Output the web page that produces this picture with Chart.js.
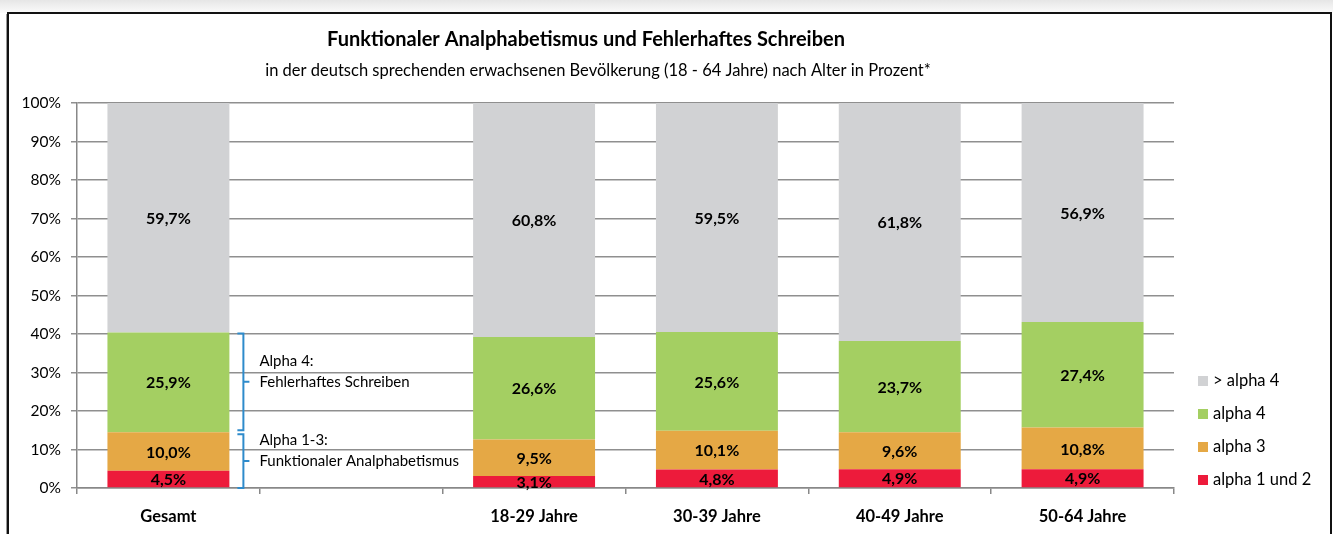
<!DOCTYPE html>
<html>
<head>
<meta charset="utf-8">
<script src="https://cdn.jsdelivr.net/npm/chart.js@4"></script>
<style>
  html, body { margin: 0; padding: 0; background: #fff; }
  #wrap { width: 1333px; height: 534px; position: relative; }
</style>
</head>
<body>
<div id="wrap"><canvas id="chart"></canvas></div>
<script>
// data
const categories = ['Gesamt', '', '18-29 Jahre', '30-39 Jahre', '40-49 Jahre', '50-64 Jahre'];
const alpha12 = [4.5, null, 3.1, 4.8, 4.9, 4.9];
const alpha3 = [10.0, null, 9.5, 10.1, 9.6, 10.8];
const alpha4 = [25.9, null, 26.6, 25.6, 23.7, 27.4];
const overAlpha4 = [59.7, null, 60.8, 59.5, 61.8, 56.9];
const seriesNames = ['alpha 1 und 2', 'alpha 3', 'alpha 4', '> alpha 4'];
const seriesColors = ['#ED1B3B', '#E5A845', '#A4CF62', '#D1D2D4'];
const yTicks = [0, 10, 20, 30, 40, 50, 60, 70, 80, 90, 100];

const FONT = 'Lato, "Open Sans", sans-serif';

const chartTitle = 'Funktionaler Analphabetismus und Fehlerhaftes Schreiben';
const chartSubtitle = 'in der deutsch sprechenden erwachsenen Bevölkerung (18 - 64 Jahre) nach Alter in Prozent*';

function fmt(v) {
  return v.toFixed(1).replace('.', ',') + '%';
}

// frame, title, labels, braces and legend
const decoPlugin = {
  id: 'deco',
  beforeDraw(chart) {
    const ctx = chart.ctx;
    ctx.save();
    ctx.fillStyle = '#fff';
    ctx.fillRect(0, 0, chart.width, chart.height);
    const g = ctx.createLinearGradient(0, 0, 0, 13);
    g.addColorStop(0, '#e6e6e6');
    g.addColorStop(1, '#fbfbfb');
    ctx.fillStyle = g;
    ctx.fillRect(0, 0, chart.width, 13);
    ctx.strokeStyle = '#111';
    ctx.lineWidth = 2;
    ctx.beginPath();
    ctx.moveTo(8, chart.height);
    ctx.lineTo(8, 13);
    ctx.lineTo(1331, 13);
    ctx.lineTo(1331, chart.height);
    ctx.stroke();
    ctx.strokeStyle = '#999';
    ctx.lineWidth = 1;
    ctx.beginPath();
    ctx.moveTo(6.5, chart.height);
    ctx.lineTo(6.5, 14);
    ctx.stroke();

    ctx.fillStyle = '#000';
    ctx.textAlign = 'center';
    ctx.textBaseline = 'middle';
    ctx.font = 'bold 20px ' + FONT;
    ctx.fillText(chartTitle, 586, 40);
    ctx.font = '16.5px ' + FONT;
    ctx.fillText(chartSubtitle, 598, 71);
    ctx.restore();
  },
  afterDatasetsDraw(chart) {
    const ctx = chart.ctx;
    const y = chart.scales.y;
    const area = chart.chartArea;
    ctx.save();

    // value labels
    ctx.font = 'bold 16px ' + FONT;
    ctx.fillStyle = '#000';
    ctx.textAlign = 'center';
    ctx.textBaseline = 'middle';
    chart.data.datasets.forEach((ds, di) => {
      chart.getDatasetMeta(di).data.forEach((el, i) => {
        const v = ds.data[i];
        if (v == null) return;
        ctx.fillText(fmt(v), el.x, (el.y + el.base) / 2 + 1);
      });
    });

    // braces next to the first bar
    const first = chart.getDatasetMeta(0).data[0];
    const bx = first.x + first.width / 2 + 14;
    const low = alpha12[0] + alpha3[0];
    const high = low + alpha4[0];
    const braces = [
      { from: y.getPixelForValue(high) + 1, to: y.getPixelForValue(low) - 2, lines: ['Alpha 4:', 'Fehlerhaftes Schreiben'] },
      { from: y.getPixelForValue(low) + 2, to: y.getPixelForValue(0), lines: ['Alpha 1-3:', 'Funktionaler Analphabetismus'] }
    ];
    ctx.strokeStyle = '#2E8BCB';
    ctx.lineWidth = 2;
    ctx.font = '15px ' + FONT;
    ctx.textAlign = 'left';
    braces.forEach(b => {
      const mid = (b.from + b.to) / 2;
      ctx.beginPath();
      ctx.moveTo(bx - 6, b.from);
      ctx.lineTo(bx, b.from);
      ctx.lineTo(bx, b.to);
      ctx.lineTo(bx - 6, b.to);
      ctx.moveTo(bx, mid);
      ctx.lineTo(bx + 6, mid);
      ctx.stroke();
      ctx.fillText(b.lines[0], bx + 16, mid - 21);
      ctx.fillText(b.lines[1], bx + 16, mid);
    });

    // legend, top item is the top of the stack
    ctx.font = '16.5px ' + FONT;
    const lx = area.right + 24;
    for (let k = 0; k < seriesNames.length; k++) {
      const ly = area.bottom - 8 - k * 33;
      ctx.fillStyle = seriesColors[k];
      ctx.fillRect(lx, ly - 5, 10, 10);
      ctx.fillStyle = '#000';
      ctx.fillText(seriesNames[k], lx + 15, ly);
    }
    ctx.restore();
  }
};

const seriesData = [alpha12, alpha3, alpha4, overAlpha4];

new Chart(document.getElementById('chart'), {
  type: 'bar',
  data: {
    labels: categories,
    datasets: seriesNames.map((name, i) => ({
      label: name,
      data: seriesData[i],
      backgroundColor: seriesColors[i],
      borderWidth: 0,
      categoryPercentage: 1,
      barPercentage: 0.667
    }))
  },
  options: {
    responsive: true,
    maintainAspectRatio: false,
    animation: false,
    layout: { padding: { left: 0, right: 159, top: 103, bottom: 0 } },
    plugins: {
      legend: { display: false },
      tooltip: { enabled: false },
      title: { display: false }
    },
    scales: {
      x: {
        stacked: true,
        afterFit: s => { s.height = 46; },
        grid: { offset: true, drawOnChartArea: false, drawTicks: true, tickLength: 6, color: '#888', lineWidth: 1.5 },
        border: { display: true, color: '#888', width: 1.5 },
        ticks: { color: '#000', padding: 13, font: { family: FONT, size: 16.5, weight: 'bold' } }
      },
      y: {
        stacked: true,
        min: 0,
        max: 100,
        afterFit: s => { s.width = 77; },
        afterBuildTicks: s => { s.ticks = yTicks.map(v => ({ value: v })); },
        grid: { color: '#8f8f8f', lineWidth: 1.5, tickLength: 6 },
        border: { display: true, color: '#888', width: 1.5 },
        ticks: { color: '#000', padding: 10, font: { family: FONT, size: 15.5 }, callback: v => v + '%' }
      }
    }
  },
  plugins: [decoPlugin]
});
</script>
</body>
</html>
